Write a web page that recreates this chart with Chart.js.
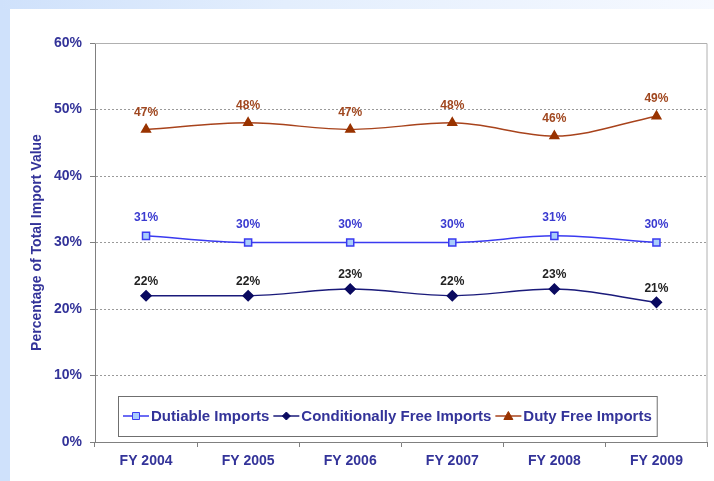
<!DOCTYPE html>
<html>
<head>
<meta charset="utf-8">
<script src="https://cdn.jsdelivr.net/npm/chart.js@4.4.1/dist/chart.umd.min.js"></script>
<style>
  html, body { margin: 0; padding: 0; }
  body {
    width: 714px; height: 481px; position: relative; overflow: hidden;
    background: #cfe1fb;
  }
  #topband {
    position: absolute; left: 0; top: 0; width: 714px; height: 9px;
    background: linear-gradient(to right, #cfe1fb, #e3eefd 40%, #f6f9ff);
  }
  #wrap {
    position: absolute; left: 10px; top: 9px; width: 704px; height: 472px;
    background: #ffffff;
  }
</style>
</head>
<body>
<div id="topband"></div>
<div id="wrap"><canvas id="importChart" width="704" height="472"></canvas></div>
<script>
const years = ['FY 2004', 'FY 2005', 'FY 2006', 'FY 2007', 'FY 2008', 'FY 2009'];
const dutiable = [31, 30, 30, 30, 31, 30];
const conditionallyFree = [22, 22, 23, 22, 23, 21];
const dutyFree = [47, 48, 47, 48, 46, 49];

const navy = '#333399';
const axisGray = '#808080';
const fontFamily = '"Liberation Sans", Arial, sans-serif';

// value labels above each point
const pointLabels = {
  id: 'pointLabels',
  afterDatasetsDraw(chart) {
    const ctx = chart.ctx;
    ctx.save();
    ctx.textAlign = 'center';
    ctx.textBaseline = 'middle';
    chart.data.datasets.forEach((ds, i) => {
      const meta = chart.getDatasetMeta(i);
      ctx.fillStyle = ds.labelColor;
      ctx.font = 'bold 12px ' + fontFamily;
      meta.data.forEach((pt, j) => {
        ctx.fillText(ds.data[j] + '%', pt.x, pt.y - ds.labelOffset);
      });
    });
    ctx.restore();
  }
};

// light frame on the top and right of the plot
const plotFrame = {
  id: 'plotFrame',
  beforeDatasetsDraw(chart) {
    const {ctx, chartArea: a} = chart;
    ctx.save();
    ctx.strokeStyle = '#b0b0b0';
    ctx.lineWidth = 1;
    ctx.beginPath();
    ctx.moveTo(a.left, a.top + 0.5);
    ctx.lineTo(a.right - 0.5, a.top + 0.5);
    ctx.lineTo(a.right - 0.5, a.bottom);
    ctx.stroke();
    ctx.restore();
  }
};

function drawMarker(ctx, style, x, y, fill, stroke) {
  ctx.fillStyle = fill;
  ctx.strokeStyle = stroke;
  ctx.lineWidth = 1;
  ctx.beginPath();
  if (style === 'rect') {
    ctx.rect(x - 3.5, y - 3.5, 7, 7);
  } else if (style === 'rectRot') {
    ctx.moveTo(x, y - 4); ctx.lineTo(x + 4, y); ctx.lineTo(x, y + 4); ctx.lineTo(x - 4, y);
    ctx.closePath();
  } else {
    ctx.moveTo(x, y - 4.5); ctx.lineTo(x + 4.5, y + 3.5); ctx.lineTo(x - 4.5, y + 3.5);
    ctx.closePath();
  }
  ctx.fill();
  ctx.stroke();
}

// boxed legend sitting inside the bottom of the plot
const boxLegend = {
  id: 'boxLegend',
  afterDraw(chart) {
    const {ctx, chartArea: a} = chart;
    ctx.save();
    ctx.font = 'bold 15px ' + fontFamily;
    ctx.textBaseline = 'middle';
    const left = a.left + 23, top = a.bottom - 46, h = 40;
    const sample = 26;
    let x = left + 5;
    const cy = top + h / 2;
    chart.data.datasets.forEach(ds => {
      const w = ctx.measureText(ds.label).width;
      ctx.strokeStyle = ds.borderColor;
      ctx.lineWidth = 1.5;
      ctx.beginPath();
      ctx.moveTo(x, cy); ctx.lineTo(x + sample, cy);
      ctx.stroke();
      drawMarker(ctx, ds.pointStyle, x + sample / 2, cy, ds.pointBackgroundColor, ds.pointBorderColor);
      ctx.fillStyle = navy;
      ctx.fillText(ds.label, x + sample + 2, cy + 1);
      x += sample + 2 + w + 4;
    });
    ctx.strokeStyle = '#6f6f6f';
    ctx.lineWidth = 1;
    ctx.strokeRect(left + 0.5, top + 0.5, x - left + 1, h);
    ctx.restore();
  }
};

new Chart(document.getElementById('importChart'), {
  type: 'line',
  data: {
    labels: years,
    datasets: [
      {
        label: 'Dutiable Imports',
        data: dutiable,
        borderColor: '#3a3af0',
        borderWidth: 1.5,
        pointStyle: 'rect',
        pointRadius: 5,
        pointBackgroundColor: '#a9cdfb',
        pointBorderColor: '#3a3af0',
        labelColor: '#3a3ad0',
        labelOffset: 18
      },
      {
        label: 'Conditionally Free Imports',
        data: conditionallyFree,
        borderColor: '#1a1a7a',
        borderWidth: 1.5,
        pointStyle: 'rectRot',
        pointRadius: 5,
        pointBackgroundColor: '#0a0a60',
        pointBorderColor: '#0a0a60',
        labelColor: '#222222',
        labelOffset: 14
      },
      {
        label: 'Duty Free Imports',
        data: dutyFree,
        borderColor: '#a8431c',
        borderWidth: 1.5,
        pointStyle: 'triangle',
        pointRadius: 5,
        pointBackgroundColor: '#993300',
        pointBorderColor: '#993300',
        labelColor: '#a0471f',
        labelOffset: 17
      }
    ]
  },
  options: {
    responsive: false,
    devicePixelRatio: 1,
    animation: false,
    layout: { padding: { top: 34, right: 6, left: 0, bottom: 0 } },
    elements: { line: { tension: 0.4, cubicInterpolationMode: 'monotone' } },
    plugins: {
      legend: { display: false },
      tooltip: { enabled: false }
    },
    scales: {
      x: {
        offset: true,
        afterFit(scale) { scale.height = 39; },
        grid: {
          offset: true,
          drawOnChartArea: false,
          tickLength: 5,
          tickColor: axisGray
        },
        border: { color: axisGray, width: 1 },
        ticks: {
          color: navy,
          padding: 6,
          font: { family: fontFamily, size: 14, weight: 'bold' }
        }
      },
      y: {
        min: 0,
        max: 60,
        afterFit(scale) { scale.width = 85; },
        grid: {
          color: ctx => (ctx.tick && (ctx.tick.value === 0 || ctx.tick.value === 60)) ? 'rgba(0,0,0,0)' : '#9a9a9a',
          tickColor: axisGray,
          tickLength: 5
        },
        border: { color: axisGray, width: 1, dash: [2, 2] },
        ticks: {
          stepSize: 10,
          color: navy,
          padding: 8,
          font: { family: fontFamily, size: 14, weight: 'bold' },
          callback: v => v + '%'
        },
        title: {
          display: true,
          text: 'Percentage of Total Import Value',
          color: navy,
          padding: { top: 19, bottom: 0 },
          font: { family: fontFamily, size: 14, weight: 'bold' }
        }
      }
    }
  },
  plugins: [plotFrame, pointLabels, boxLegend]
});
</script>
</body>
</html>
